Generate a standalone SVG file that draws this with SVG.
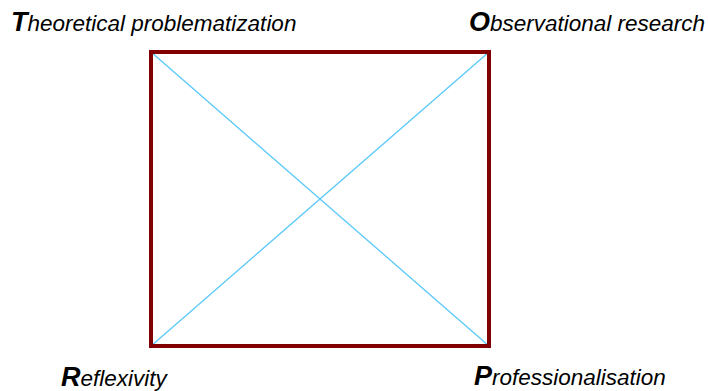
<svg xmlns="http://www.w3.org/2000/svg" width="708" height="391" viewBox="0 0 708 391">
<style>
.lbl{font-family:"Liberation Sans",Arial,sans-serif;font-style:italic;font-size:22.5px;fill:#000}
.cap{font-weight:bold;font-size:27px}
.diag{stroke:#5ac8fa;stroke-width:1.3;fill:none}
.box{stroke:#800000;stroke-width:4;fill:none}
</style>
<g id="connectors">
<line class="diag" x1="151" y1="52" x2="489" y2="346"/>
<line class="diag" x1="489" y1="52" x2="151" y2="346"/>
</g>
<g id="frame"><rect class="box" x="151" y="52" width="338" height="294"/></g>
<g id="node-theoretical"><text class="lbl" x="11" y="31"><tspan class="cap">T</tspan>heoretical problematization</text></g>
<g id="node-observational"><text class="lbl" x="469" y="31"><tspan class="cap">O</tspan>bservational research</text></g>
<g id="node-reflexivity"><text class="lbl" x="61" y="386"><tspan class="cap">R</tspan>eflexivity</text></g>
<g id="node-professionalisation"><text class="lbl" x="474" y="385"><tspan class="cap">P</tspan>rofessionalisation</text></g>
</svg>
